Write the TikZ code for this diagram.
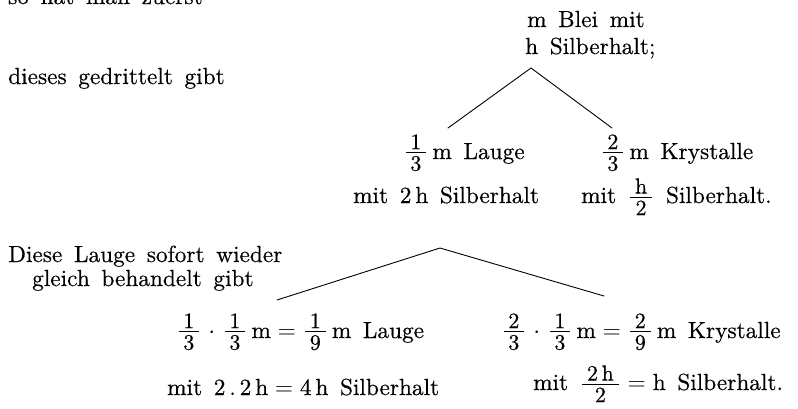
\documentclass[tikz,border=0pt]{standalone}
\usepackage{amsmath}
\usepackage{fontspec}
\setmainfont{lmroman10-regular.otf}[FakeBold=0.4]
\newcommand\txtfont{\fontsize{23.3}{27}\selectfont\spaceskip=0.5em plus 0.1em minus 0.1em\relax}
\newcommand\frfont{\fontsize{22}{22}\selectfont}
\newcommand\fr[2]{\hspace{0.1em}$\vcenter{\offinterlineskip\ialign{\hfil\frfont##\hfil\cr
  \hspace{0.22em}#1\hspace{0.22em}\cr
  \noalign{\kern3pt\hrule height 0.9pt\kern3pt}
  \hspace{0.22em}#2\hspace{0.22em}\cr}}$\hspace{0.1em}}
\newcommand\mdot{$\;\cdot\;$}
\newcommand\meq{$\;=\;$}
\begin{document}
\begin{tikzpicture}[x=1pt,y=-1pt,
  txt/.style={font=\txtfont, inner sep=0pt, anchor=base west},
  branch/.style={line width=0.9pt, line cap=round}]
\useasboundingbox[fill=white] (0,0) rectangle (798,408);
% texts
\node[txt] (t0) at (8,4) {so hat man zuerst};
\node[txt] (t1) at (527,27) {m Blei mit};
\node[txt] (t2) at (525,54) {h Silberhalt;};
\node[txt] (t3) at (8,84) {dieses gedrittelt gibt};
\node[txt] (a1) at (403,159) {\fr{1}{3}\,m Lauge};
\node[txt] (b1) at (600,159) {\fr{2}{3}\,m Krystalle};
\node[txt] (a2) at (353,203) {mit 2\,h Silberhalt};
\node[txt] (b2) at (581,203) {mit \fr{h}{2} Silberhalt.};
\node[txt] (t4) at (8,262) {Diese Lauge sofort wieder};
\node[txt] (t5) at (32,286) {gleich behandelt gibt};
\node[txt] (c1) at (176,338) {\fr{1}{3}\mdot\fr{1}{3}\,m\meq\fr{1}{9}\,m Lauge};
\node[txt] (d1) at (501,338) {\fr{2}{3}\mdot\fr{1}{3}\,m\meq\fr{2}{9}\,m Krystalle};
\node[txt] (c2) at (167,395) {mit 2\,.\,2\,h$\;=\;$4\,h Silberhalt};
\node[txt] (d2) at (533,390) {mit \fr{2\,h}{2}$\;=\;$h Silberhalt.};
% branch points
\coordinate (p1) at (531,68);
\coordinate (p1l) at (448,128);
\coordinate (p1r) at (612,128);
\coordinate (p2) at (440,248);
\coordinate (p2l) at (277,300);
\coordinate (p2r) at (604,296);
\draw[branch] (p1l) -- (p1) -- (p1r);
\draw[branch] (p2l) -- (p2) -- (p2r);
\end{tikzpicture}
\end{document}
